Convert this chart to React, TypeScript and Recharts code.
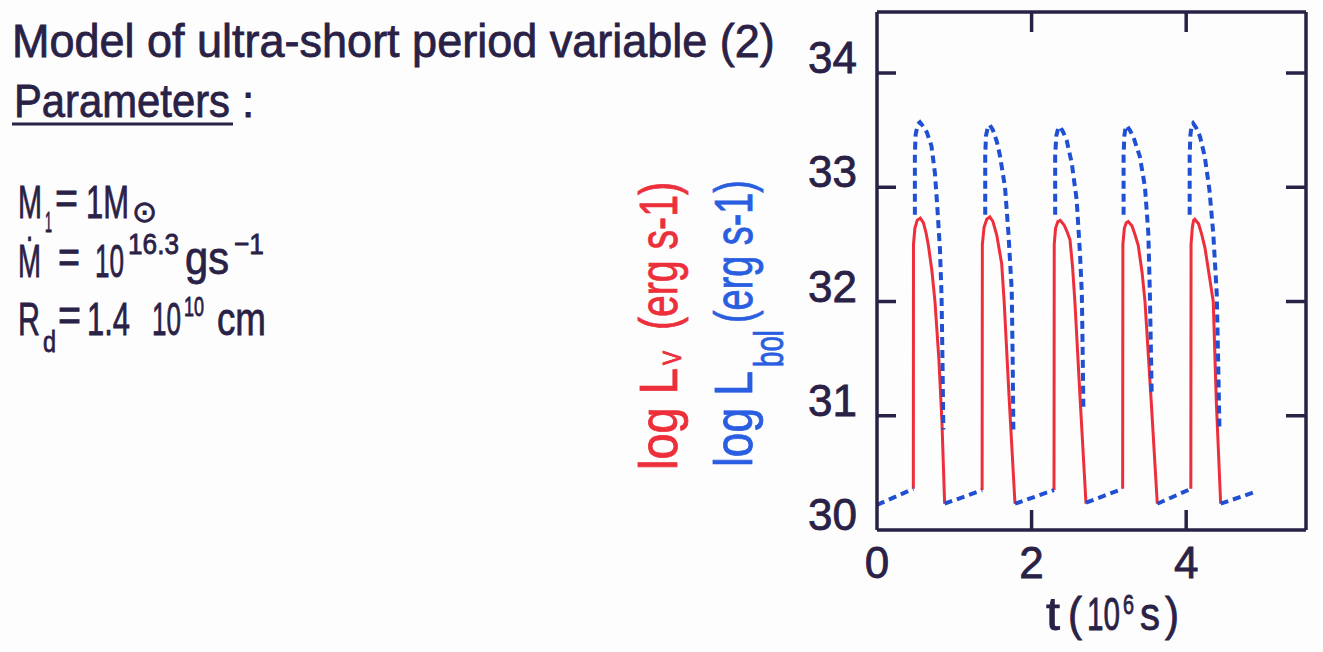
import React from 'react';
import { LineChart, Line, XAxis, YAxis } from 'recharts';

// Light-curve model of an ultra-short period variable:
// visual (L_V, solid red) and bolometric (L_bol, dashed blue) luminosity vs time.

const W = 1323;
const H = 652;
const INK = '#2a2146';
const RED = '#ec2f3a';
const BLUE = '#1f4fd2';
const LABEL_BLUE = '#2a5ee0';
const FONT = "'Liberation Sans', 'DejaVu Sans', sans-serif";

const xTicks = [0, 2, 4];
const yTicks = [30, 31, 32, 33, 34];
const xDomain = [0, 5.55];
const yDomain = [30, 34.534];

// [t (10^6 s), log L_V] per outburst
const lv1 = [[0.47, 30.36], [0.472, 32.5], [0.49, 32.64], [0.52, 32.71], [0.56, 32.73], [0.6, 32.69], [0.635, 32.6], [0.665, 32.49], [0.71, 32.27], [0.75, 32.0], [0.8, 31.5], [0.84, 30.95], [0.875, 30.23]];
const lv2 = [[1.36, 30.35], [1.363, 32.5], [1.385, 32.65], [1.42, 32.72], [1.46, 32.74], [1.5, 32.7], [1.55, 32.58], [1.613, 32.33], [1.645, 32.0], [1.71, 31.15], [1.785, 30.23]];
const lv3 = [[2.29, 30.35], [2.293, 32.5], [2.31, 32.64], [2.34, 32.7], [2.37, 32.71], [2.42, 32.67], [2.46, 32.61], [2.497, 32.54], [2.53, 32.3], [2.56, 32.0], [2.63, 31.12], [2.704, 30.23]];
const lv4 = [[3.178, 30.36], [3.181, 32.5], [3.2, 32.64], [3.225, 32.69], [3.25, 32.7], [3.3, 32.66], [3.34, 32.58], [3.38, 32.49], [3.43, 32.25], [3.467, 32.0], [3.55, 31.1], [3.626, 30.23]];
const lv5 = [[4.06, 30.36], [4.063, 32.5], [4.08, 32.65], [4.095, 32.71], [4.11, 32.72], [4.16, 32.68], [4.2, 32.59], [4.243, 32.47], [4.3, 32.22], [4.35, 32.0], [4.39, 31.12], [4.446, 30.23]];

// [t (10^6 s), log L_bol] per outburst
const lbol1 = [[0.49, 32.76], [0.49, 33.3], [0.5, 33.46], [0.525, 33.55], [0.556, 33.57], [0.6, 33.53], [0.645, 33.48], [0.705, 33.36], [0.75, 33.12], [0.78, 32.83], [0.815, 32.45], [0.835, 32.05], [0.848, 31.45], [0.858, 30.88]];
const lbol2 = [[1.4, 32.76], [1.4, 33.28], [1.41, 33.45], [1.435, 33.53], [1.46, 33.545], [1.5, 33.5], [1.55, 33.4], [1.59, 33.28], [1.656, 33.0], [1.7, 32.6], [1.743, 32.1], [1.755, 31.5], [1.764, 30.88]];
const lbol3 = [[2.305, 32.76], [2.305, 33.28], [2.32, 33.45], [2.345, 33.52], [2.37, 33.53], [2.41, 33.48], [2.454, 33.41], [2.52, 33.21], [2.583, 32.89], [2.626, 32.42], [2.65, 32.07], [2.66, 31.6], [2.67, 31.05]];
const lbol4 = [[3.19, 32.76], [3.19, 33.28], [3.2, 33.45], [3.215, 33.52], [3.23, 33.54], [3.27, 33.5], [3.317, 33.44], [3.4, 33.27], [3.467, 33.0], [3.51, 32.6], [3.53, 32.07], [3.543, 31.6], [3.554, 31.18]];
const lbol5 = [[4.045, 32.76], [4.045, 33.28], [4.055, 33.46], [4.07, 33.54], [4.09, 33.56], [4.13, 33.52], [4.18, 33.44], [4.24, 33.27], [4.3, 32.98], [4.35, 32.6], [4.395, 32.07], [4.41, 31.6], [4.43, 30.9]];

// quiescent stretches (L_bol)
const quiet0 = [[0, 30.22], [0.47, 30.36]];
const quiet1 = [[0.875, 30.23], [1.36, 30.35]];
const quiet2 = [[1.785, 30.23], [2.29, 30.35]];
const quiet3 = [[2.704, 30.24], [3.178, 30.36]];
const quiet4 = [[3.626, 30.23], [4.06, 30.36]];
const quiet5 = [[4.446, 30.23], [4.92, 30.34]];

const toRows = (pts: number[][]) => pts.map(([t, v]) => ({ t, v }));

const visualSegments = [lv1, lv2, lv3, lv4, lv5].map(toRows);
const bolSegments = [lbol1, lbol2, lbol3, lbol4, lbol5, quiet0, quiet1, quiet2, quiet3, quiet4, quiet5].map(toRows);

const tickText = { fontFamily: FONT, fontSize: 44, fill: INK, stroke: INK, strokeWidth: 0.8 };
const tickStroke = { stroke: INK, strokeWidth: 3.5 };

const LeftTick = (p: any) => (
  <g>
    {p.payload.value !== 30 && <line x1={p.x} x2={p.x + 19} y1={p.y} y2={p.y} {...tickStroke} />}
    <text x={p.x - 20} y={p.y} textAnchor="end" {...tickText}>{p.payload.value}</text>
  </g>
);

const BottomTick = (p: any) => (
  <g>
    {p.payload.value !== 0 && <line x1={p.x} x2={p.x} y1={p.y} y2={p.y - 20} {...tickStroke} />}
    <text x={p.x} y={p.y + 48} textAnchor="middle" {...tickText}>{p.payload.value}</text>
  </g>
);

const TopTick = (p: any) => <line x1={p.x} x2={p.x} y1={p.y} y2={p.y + 20} {...tickStroke} />;
const RightTick = (p: any) => <line x1={p.x} x2={p.x - 20} y1={p.y} y2={p.y} {...tickStroke} />;

const axisLine = { stroke: INK, strokeWidth: 3.5 };

// Narrow lettering: each piece of text is squeezed horizontally to its width w.
const ctx = typeof document !== 'undefined' ? document.createElement('canvas').getContext('2d') : null;
const naturalWidth = (s: string, size: number, family: string) => {
  if (!ctx) return s.length * size * 0.5;
  ctx.font = `${size}px ${family}`;
  return ctx.measureText(s).width || s.length * size * 0.5;
};

const T = ({ x, y, w, size, fill = INK, family = FONT, children }: any) => {
  const sx = w ? w / naturalWidth(String(children), size, family) : 1;
  return (
    <text transform={`translate(${x},${y}) scale(${sx},1)`} fontSize={size} fontFamily={family}
      fill={fill} stroke={fill} strokeWidth={0.8}>
      {children}
    </text>
  );
};

export default function App() {
  return (
    <div style={{ position: 'absolute', left: 0, top: 0, width: W, height: H, background: '#fdfdfe' }}>
      <LineChart width={W} height={H} margin={{ top: 11, right: 16, bottom: 62, left: 817 }}>
        <XAxis xAxisId="b" type="number" dataKey="t" domain={xDomain} ticks={xTicks} interval={0}
          allowDataOverflow height={60} tickSize={0} tickMargin={0} tickLine={false}
          axisLine={axisLine} tick={<BottomTick />} />
        <XAxis xAxisId="t" orientation="top" type="number" dataKey="t" domain={xDomain} ticks={[2, 4]}
          interval={0} allowDataOverflow height={1} tickSize={0} tickMargin={0} tickLine={false}
          axisLine={axisLine} tick={<TopTick />} />
        <YAxis yAxisId="l" type="number" domain={yDomain} ticks={yTicks} interval={0}
          allowDataOverflow width={60} tickSize={0} tickMargin={0} tickLine={false}
          axisLine={axisLine} tick={<LeftTick />} />
        <YAxis yAxisId="r" orientation="right" type="number" domain={yDomain} ticks={[31, 32, 33, 34]}
          interval={0} allowDataOverflow width={1} tickSize={0} tickMargin={0} tickLine={false}
          axisLine={axisLine} tick={<RightTick />} />
        {visualSegments.map((seg, i) => (
          <Line key={'v' + i} data={seg} xAxisId="b" yAxisId="l" dataKey="v" type="linear"
            stroke={RED} strokeWidth={3} dot={false} isAnimationActive={false} />
        ))}
        {bolSegments.map((seg, i) => (
          <Line key={'b' + i} data={seg} xAxisId="b" yAxisId="l" dataKey="v" type="linear"
            stroke={BLUE} strokeWidth={4} strokeDasharray="8 5" dot={false} isAnimationActive={false} />
        ))}
      </LineChart>

      <svg width={W} height={H} style={{ position: 'absolute', left: 0, top: 0, pointerEvents: 'none' }}>
        {/* heading and model parameters */}
        <T x={12} y={57} size={47} w={763}>Model of ultra-short period variable (2)</T>
        <T x={14} y={117} size={47} w={216}>Parameters</T>
        <line x1={12} x2={233} y1={124} y2={124} stroke={INK} strokeWidth={3} />
        <T x={242} y={117} size={44}>:</T>

        <T x={18} y={218} size={46} w={24}>M</T>
        <T x={45} y={232} size={30} w={7}>1</T>
        <T x={55} y={214} size={46} w={23}>=</T>
        <T x={86} y={218} size={46} w={43}>1M</T>
        <T x={132} y={222} size={30} family="'DejaVu Sans', sans-serif">⊙</T>

        <T x={18} y={277} size={46} w={23}>Ṁ</T>
        <T x={58} y={273} size={46} w={22}>=</T>
        <T x={95} y={277} size={46} w={29}>10</T>
        <T x={128} y={254} size={30} w={51}>16.3</T>
        <T x={185} y={274} size={46} w={44}>gs</T>
        <T x={234} y={254} size={30} w={30}>−1</T>

        <T x={18} y={335} size={46} w={22}>R</T>
        <T x={43} y={352} size={30} w={13}>d</T>
        <T x={58} y={331} size={46} w={23}>=</T>
        <T x={87} y={335} size={46} w={43}>1.4</T>
        <T x={152} y={335} size={46} w={29}>10</T>
        <T x={184} y={316} size={28} w={20}>10</T>
        <T x={217} y={335} size={46} w={49}>cm</T>

        {/* vertical axis titles */}
        <g transform="translate(677,470) rotate(-90)">
          <T x={0} y={0} size={54} fill={RED} w={102}>log L</T>
          <T x={105} y={4} size={26} fill={RED} w={14}>V</T>
          <T x={140} y={0} size={54} fill={RED} w={148}>(erg s-1)</T>
        </g>
        <g transform="translate(752,467) rotate(-90)">
          <T x={0} y={0} size={54} fill={LABEL_BLUE} w={96}>log L</T>
          <T x={100} y={31} size={40} fill={LABEL_BLUE} w={37}>bol</T>
          <T x={144} y={0} size={54} fill={LABEL_BLUE} w={143}>(erg s-1)</T>
        </g>

        {/* horizontal axis title */}
        <T x={1046} y={630} size={46} w={14}>t</T>
        <T x={1068} y={630} size={46} w={14}>(</T>
        <T x={1087} y={630} size={46} w={33}>10</T>
        <T x={1123} y={614} size={28} w={11}>6</T>
        <T x={1140} y={630} size={46} w={20}>s</T>
        <T x={1165} y={630} size={46} w={14}>)</T>
      </svg>
    </div>
  );
}
